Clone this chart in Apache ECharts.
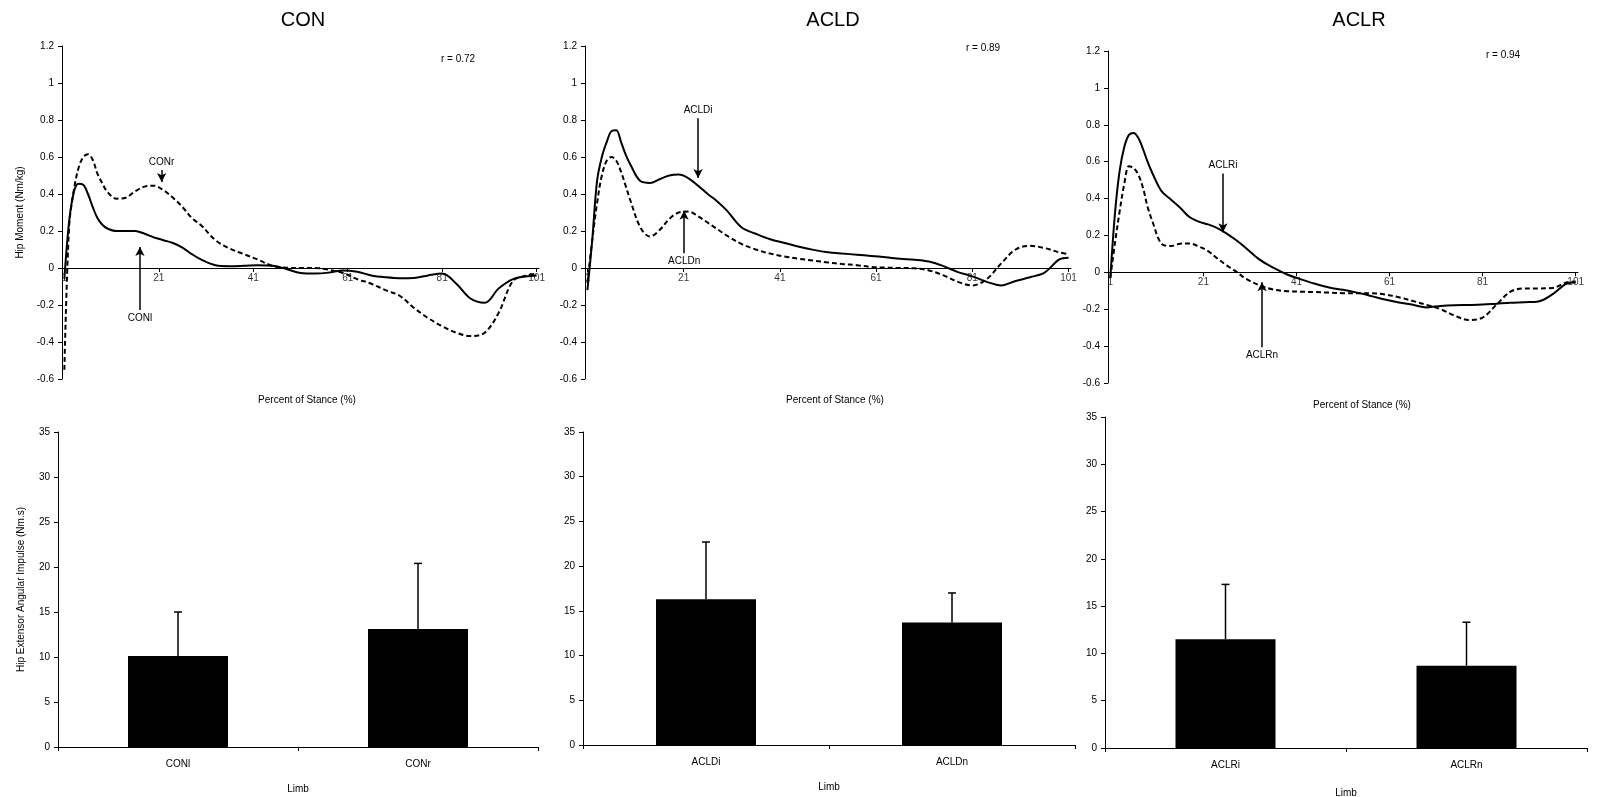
<!DOCTYPE html>
<html>
<head>
<meta charset="utf-8">
<script src="https://cdn.jsdelivr.net/npm/echarts@6.0.0/dist/echarts.min.js"></script>
<style>
    html, body { margin: 0; padding: 0; background: #fff; }
    #chart { width: 1606px; height: 797px; }
</style>
</head>
<body>
<div id="chart"></div>
<script>
    // percent of stance where each curve was read
    const stance = [1, 2, 3, 4, 5, 6, 7, 8, 9, 10, 12, 14, 16, 18, 20, 22, 24, 26, 28, 30,
        33, 36, 39, 42, 45, 48, 51, 54, 57, 60, 63, 66, 69, 72, 75, 78, 81, 84, 87, 90, 93, 96, 99, 101];
    const stanceTicks = [1, 21, 41, 61, 81, 101];

    // hip moment (Nm/kg)
    const conL = [-0.06, 0.25, 0.41, 0.455, 0.45, 0.4, 0.33, 0.27, 0.235, 0.215, 0.2, 0.2, 0.2, 0.185, 0.165, 0.15, 0.135, 0.11, 0.075, 0.045,
        0.015, 0.01, 0.012, 0.015, 0.012, -0.005, -0.027, -0.03, -0.025, -0.013, -0.02, -0.04, -0.05, -0.055, -0.054, -0.04, -0.03, -0.085, -0.165, -0.188, -0.11, -0.06, -0.045, -0.04];
    const conR = [-0.55, 0.22, 0.42, 0.54, 0.6, 0.615, 0.585, 0.51, 0.46, 0.415, 0.375, 0.38, 0.415, 0.44, 0.445, 0.42, 0.38, 0.33, 0.27, 0.23,
        0.15, 0.105, 0.075, 0.045, 0.012, 0.002, 0, 0, -0.01, -0.027, -0.06, -0.085, -0.12, -0.15, -0.215, -0.27, -0.315, -0.35, -0.368, -0.35, -0.24, -0.07, -0.04, -0.03];
    const acldI = [-0.12, 0.15, 0.47, 0.6, 0.68, 0.74, 0.745, 0.68, 0.61, 0.555, 0.47, 0.46, 0.48, 0.5, 0.505, 0.485, 0.445, 0.4, 0.36, 0.31,
        0.22, 0.185, 0.155, 0.135, 0.115, 0.098, 0.085, 0.078, 0.072, 0.065, 0.058, 0.05, 0.045, 0.035, 0.01, -0.022, -0.045, -0.075, -0.094, -0.07, -0.05, -0.025, 0.045, 0.055];
    const acldN = [-0.08, 0.15, 0.35, 0.5, 0.58, 0.6, 0.58, 0.52, 0.44, 0.36, 0.22, 0.17, 0.205, 0.265, 0.3, 0.305, 0.28, 0.245, 0.21, 0.175,
        0.13, 0.1, 0.078, 0.062, 0.05, 0.04, 0.03, 0.022, 0.015, 0.006, 0.002, 0, -0.002, -0.013, -0.04, -0.075, -0.094, -0.06, 0.025, 0.1, 0.12, 0.108, 0.085, 0.075];
    const aclrI = [-0.03, 0.32, 0.55, 0.68, 0.745, 0.756, 0.73, 0.67, 0.6, 0.54, 0.44, 0.395, 0.35, 0.3, 0.275, 0.26, 0.24, 0.21, 0.175, 0.135,
        0.07, 0.025, -0.012, -0.038, -0.062, -0.082, -0.095, -0.11, -0.128, -0.147, -0.163, -0.176, -0.19, -0.182, -0.178, -0.177, -0.175, -0.17, -0.165, -0.162, -0.158, -0.12, -0.062, -0.055];
    const aclrN = [-0.03, 0.16, 0.33, 0.48, 0.575, 0.565, 0.53, 0.46, 0.356, 0.28, 0.155, 0.143, 0.155, 0.157, 0.14, 0.115, 0.075, 0.038, 0.005, -0.033,
        -0.07, -0.093, -0.102, -0.105, -0.107, -0.11, -0.113, -0.114, -0.114, -0.12, -0.135, -0.155, -0.177, -0.2, -0.235, -0.258, -0.245, -0.175, -0.105, -0.087, -0.087, -0.085, -0.055, -0.05];

    // arrows: [label, stance, from, to]
    const conArrows = [['CONr', 21.6, 0.53, 0.465], ['CONl', 17, -0.227, 0.114]];
    const acldArrows = [['ACLDi', 24, 0.81, 0.486], ['ACLDn', 21.1, 0.08, 0.31]];
    const aclrArrows = [['ACLRi', 25.2, 0.536, 0.217], ['ACLRn', 33.6, -0.406, -0.054]];

    // hip extensor angular impulse (Nm.s), mean and SD
    const conLimbs = ['CONl', 'CONr'];
    const conMean = [10.1, 13.1];
    const conSD = [4.9, 7.3];
    const acldLimbs = ['ACLDi', 'ACLDn'];
    const acldMean = [16.3, 13.7];
    const acldSD = [6.4, 3.3];
    const aclrLimbs = ['ACLRi', 'ACLRn'];
    const aclrMean = [11.5, 8.7];
    const aclrSD = [5.8, 4.6];

    const font = 'Liberation Sans, Arial, sans-serif';
    let dom = document.getElementById('chart');
    let myChart = echarts.init(dom);

    const lineGrids = [
        {left: 62, top: 46, width: 477, height: 333},
        {left: 585, top: 46, width: 486, height: 333},
        {left: 1108, top: 51, width: 470, height: 332},
    ];
    const barGrids = [
        {left: 58, top: 432, width: 480, height: 315},
        {left: 583, top: 432, width: 492, height: 313},
        {left: 1105, top: 417, width: 482, height: 331},
    ];

    const axisBase = {
        axisLine: {show: true, lineStyle: {color: '#000', width: 1}},
        axisTick: {show: true, length: 4, lineStyle: {color: '#000'}},
        axisLabel: {color: '#000', fontSize: 10, fontFamily: font},
        splitLine: {show: false},
        nameTextStyle: {color: '#000', fontSize: 10, fontFamily: font},
    };

    let xAxis = [], yAxis = [], series = [];

    lineGrids.forEach((g, i) => {
        xAxis.push(Object.assign({}, axisBase, {
            gridIndex: i, type: 'value', min: 0.5, max: 101.5,
            axisLine: {show: true, onZero: true, lineStyle: {color: '#000', width: 1}},
            axisTick: {show: true, length: 4, customValues: stanceTicks, lineStyle: {color: '#000'}},
            axisLabel: {show: false},
        }));
        yAxis.push(Object.assign({}, axisBase, {
            gridIndex: i, type: 'value', min: -0.6, max: 1.2, interval: 0.2,
            name: i === 0 ? 'Hip Moment (Nm/kg)' : '', nameLocation: 'middle', nameGap: 37,
        }));
    });
    barGrids.forEach((g, i) => {
        xAxis.push(Object.assign({}, axisBase, {
            gridIndex: 3 + i, type: 'category', data: [conLimbs, acldLimbs, aclrLimbs][i],
            axisTick: {show: true, length: 4, lineStyle: {color: '#000'}},
            axisLabel: {color: '#000', fontSize: 10, fontFamily: font, margin: 12},
            name: 'Limb', nameLocation: 'middle', nameGap: i === 2 ? 40 : 37,
        }));
        yAxis.push(Object.assign({}, axisBase, {
            gridIndex: 3 + i, type: 'value', min: 0, max: 35, interval: 5,
            name: i === 0 ? 'Hip Extensor Angular Impulse (Nm.s)' : '', nameLocation: 'middle', nameGap: 32,
        }));
    });

    function arrowLines(arrows) {
        return {
            silent: true,
            symbol: ['none', 'arrow'],
            symbolSize: [7, 9],
            lineStyle: {color: '#000', type: 'solid', width: 1.5},
            label: {show: true, position: 'start', formatter: '{b}', color: '#000', fontSize: 10, fontFamily: font, distance: 3},
            data: arrows.map(a => [{name: a[0], coord: [a[1], a[2]]}, {coord: [a[1], a[3]]}]),
        };
    }

    const curves = [[conL, conR, conArrows], [acldI, acldN, acldArrows], [aclrI, aclrN, aclrArrows]];
    curves.forEach((c, i) => {
        series.push({
            type: 'line', xAxisIndex: i, yAxisIndex: i, smooth: 0.35, symbol: 'none',
            lineStyle: {color: '#000', width: 2},
            data: stance.map((s, k) => [s, c[0][k]]),
            markLine: arrowLines(c[2]),
            z: 3,
        });
        series.push({
            type: 'line', xAxisIndex: i, yAxisIndex: i, smooth: 0.35, symbol: 'none',
            lineStyle: {color: '#000', width: 2, type: [5, 3]},
            data: stance.map((s, k) => [s, c[1][k]]),
            z: 2,
        });
        // stance tick labels sit on the zero line, as in the original
        series.push({
            type: 'scatter', xAxisIndex: i, yAxisIndex: i, symbolSize: 0, silent: true,
            label: {show: true, position: 'bottom', distance: 5, color: '#000', fontSize: 10, fontFamily: font,
                formatter: p => String(p.value[0])},
            data: stanceTicks.map(t => [t, 0]),
        });
    });

    const bars = [[conMean, conSD], [acldMean, acldSD], [aclrMean, aclrSD]];
    bars.forEach((b, i) => {
        series.push({
            type: 'bar', xAxisIndex: 3 + i, yAxisIndex: 3 + i, barWidth: 100,
            itemStyle: {color: '#000'},
            data: b[0],
        });
        series.push({
            type: 'custom', xAxisIndex: 3 + i, yAxisIndex: 3 + i, z: 5,
            renderItem: function (params, api) {
                let x = api.value(0), v = api.value(1), e = api.value(2);
                let p0 = api.coord([x, v]);
                let p1 = api.coord([x, v + e]);
                let st = {stroke: '#000', lineWidth: 1.5};
                return {
                    type: 'group', children: [
                        {type: 'line', shape: {x1: p0[0], y1: p0[1], x2: p1[0], y2: p1[1]}, style: st},
                        {type: 'line', shape: {x1: p1[0] - 4, y1: p1[1], x2: p1[0] + 4, y2: p1[1]}, style: st},
                    ]
                };
            },
            data: b[0].map((m, k) => [k, m, b[1][k]]),
        });
    });

    function txt(text, x, y, size) {
        return {
            type: 'text', x: x, y: y, silent: true,
            style: {text: text, fill: '#000', font: size + 'px ' + font, textAlign: 'center', textVerticalAlign: 'middle'},
        };
    }

    let option = {
        backgroundColor: '#fff',
        animation: false,
        grid: lineGrids.concat(barGrids).map(g => Object.assign({outerBoundsMode: 'none', containLabel: false}, g)),
        xAxis: xAxis,
        yAxis: yAxis,
        series: series,
        graphic: [
            txt('CON', 303, 20, 20),
            txt('ACLD', 833, 20, 20),
            txt('ACLR', 1359, 20, 20),
            txt('r = 0.72', 458, 59, 10),
            txt('r = 0.89', 983, 48, 10),
            txt('r = 0.94', 1503, 55, 10),
            txt('Percent of Stance (%)', 307, 400, 10),
            txt('Percent of Stance (%)', 835, 400, 10),
            txt('Percent of Stance (%)', 1362, 405, 10),
        ],
    };
    if (option && typeof option === 'object') {
        myChart.setOption(option, true);
    }
</script>
</body>
</html>
